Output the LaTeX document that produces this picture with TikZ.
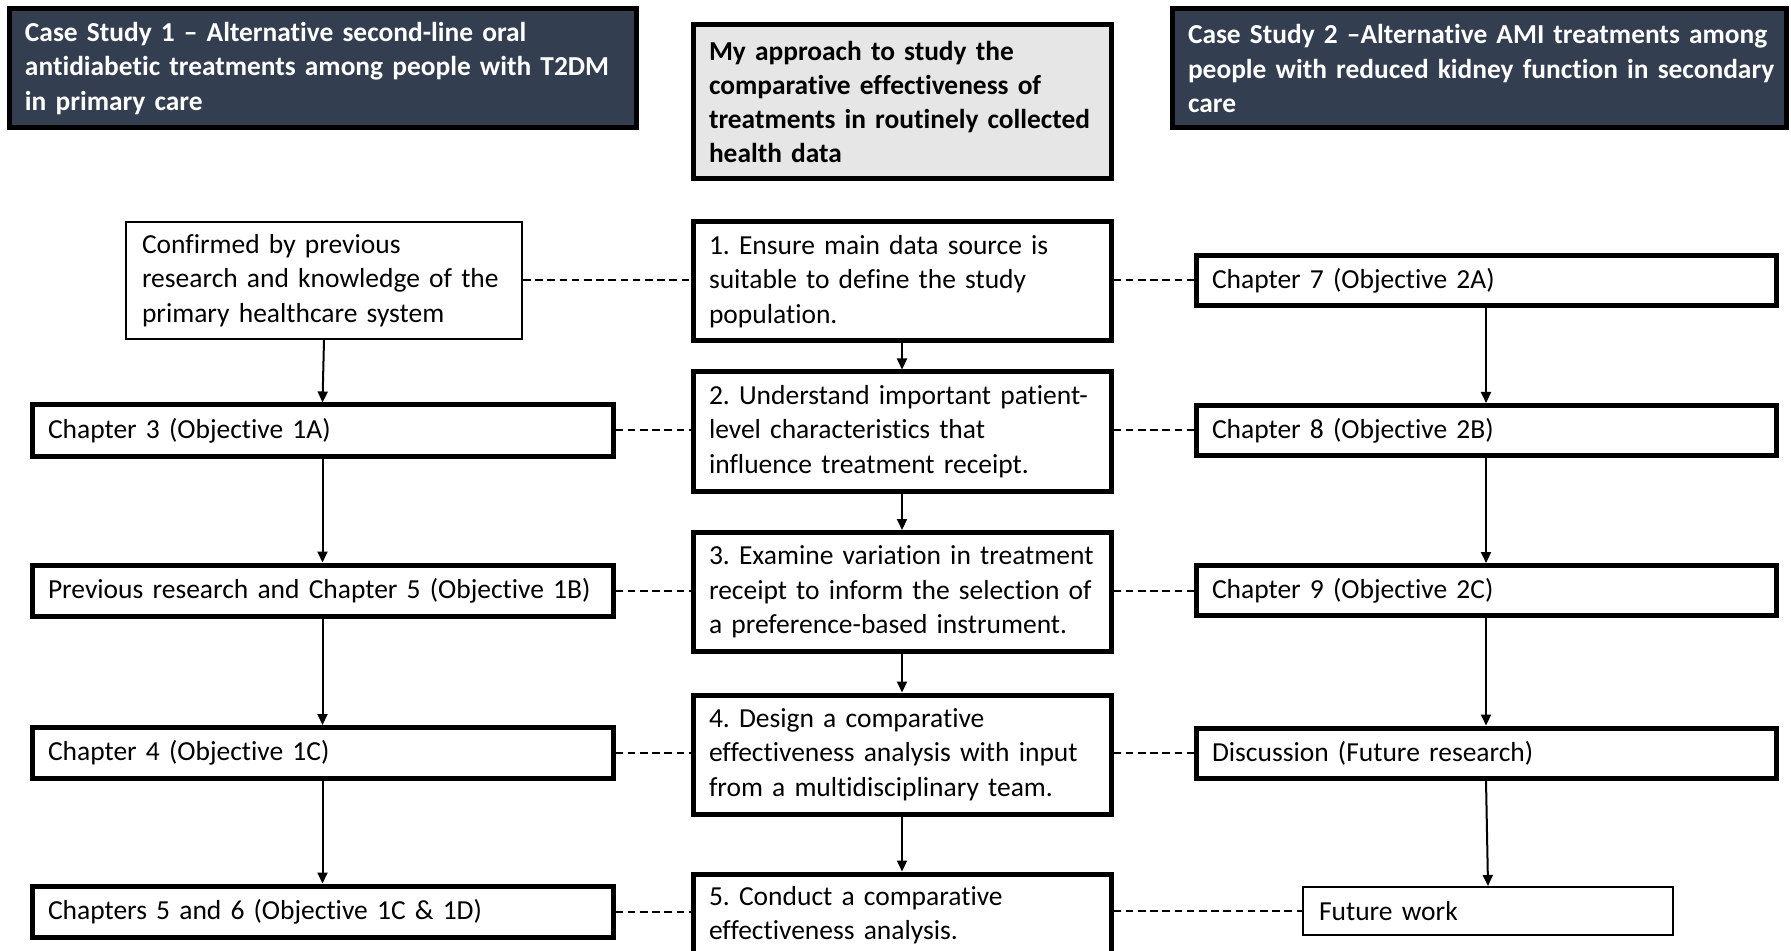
\documentclass[tikz,border=0pt]{standalone}
\usepackage{fontspec}
\setmainfont{Carlito}[Ligatures=NoCommon]
\usetikzlibrary{arrows.meta}
\definecolor{hdrfill}{HTML}{333F50}
\definecolor{midfill}{HTML}{E7E6E6}
\newcommand{\oneline}[1]{\mbox{#1}}
\begin{document}
\frenchspacing
\begin{tikzpicture}[x=0.5pt,y=-0.5pt,
  box/.style={draw=black, line width=2.5pt, fill=white, inner xsep=8pt, inner ysep=0pt,
    align=left, anchor=center, font=\fontsize{13.75}{17.15}\selectfont},
  thinbox/.style={box, line width=1pt},
  hdr/.style={box, fill=hdrfill, text=white, font=\bfseries\fontsize{13.7}{17.15}\selectfont},
  midhdr/.style={box, fill=midfill, font=\bfseries\fontsize{13.7}{17.15}\selectfont},
  cbox/.style={box, text width=193pt, minimum height=59.5pt},
  lbox/.style={box, text width=274.5pt, minimum height=25.5pt},
  rbox/.style={box, text width=274pt, minimum height=25pt},
  arr/.style={line width=1pt, -{Triangle[length=5.5pt,width=5pt]}},
  dashlink/.style={line width=1pt, dash pattern=on 3.8pt off 2.3pt}
]
\useasboundingbox (0,0) rectangle (1791,951);

% headers
\node[hdr, text width=297.5pt, minimum height=59.5pt] (h1) at (322.5,68.5)
  {\oneline{Case Study 1 -- Alternative second-line oral}\\\oneline{antidiabetic treatments among people with T2DM}\\\oneline{in primary care}};
\node[midhdr, text width=193pt, minimum height=77pt] (h2) at (902,102)
  {\oneline{My approach to study the}\\\oneline{comparative effectiveness of}\\\oneline{treatments in routinely collected}\\\oneline{health data}};
\node[hdr, text width=291pt, minimum height=59.5pt] (h3) at (1479,68.5)
  {\oneline{Case Study 2 --Alternative AMI treatments among}\\\oneline{people with reduced kidney function in secondary}\\\oneline{care}};

% left column
\node[thinbox, text width=182pt, minimum height=58.5pt] (l0) at (324,280.5)
  {\oneline{Confirmed by previous}\\\oneline{research and knowledge of the}\\\oneline{primary healthcare system}};
\node[lbox] (l1) at (322.5,430.5) {\oneline{Chapter 3 (Objective 1A)}};
\node[lbox] (l2) at (322.5,590.5) {\oneline{Previous research and Chapter 5 (Objective 1B)}};
\node[lbox] (l3) at (322.5,753) {\oneline{Chapter 4 (Objective 1C)}};
\node[lbox] (l4) at (322.5,911.5) {\oneline{Chapters 5 and 6 (Objective 1C \& 1D)}};

% centre column
\node[cbox] (c1) at (902,281.5) {\oneline{1. Ensure main data source is}\\\oneline{suitable to define the study}\\\oneline{population.}};
\node[cbox] (c2) at (902,431.5) {\oneline{2. Understand important patient-}\\\oneline{level characteristics that}\\\oneline{influence treatment receipt.}};
\node[cbox] (c3) at (902,592) {\oneline{3. Examine variation in treatment}\\\oneline{receipt to inform the selection of}\\\oneline{a preference-based instrument.}};
\node[cbox] (c4) at (902,754.5) {\oneline{4. Design a comparative}\\\oneline{effectiveness analysis with input}\\\oneline{from a multidisciplinary team.}};
\node[box, text width=193pt, minimum height=41pt] (c5) at (902,915) {\oneline{5. Conduct a comparative}\\\oneline{effectiveness analysis.}};

% right column
\node[rbox] (r1) at (1486,280.5) {\oneline{Chapter 7 (Objective 2A)}};
\node[rbox] (r2) at (1486,430.5) {\oneline{Chapter 8 (Objective 2B)}};
\node[rbox] (r3) at (1486,590.5) {\oneline{Chapter 9 (Objective 2C)}};
\node[rbox] (r4) at (1486,753) {\oneline{Discussion (Future research)}};
\node[thinbox, text width=169pt, minimum height=24pt] (r5) at (1488,911) {\oneline{Future work}};

% arrows
\foreach \a/\b in {l0/l1,l1/l2,l2/l3,l3/l4,c1/c2,c2/c3,c3/c4,c4/c5,r1/r2,r2/r3,r3/r4,r4/r5}
  \draw[arr] (\a.south) -- (\b.north);

% dashed links
\draw[dashlink] (l0.east) -- (l0.east -| c1.west);
\draw[dashlink] (r1.west -| c1.east) -- (r1.west);
\draw[dashlink] (l1.east) -- (l1.east -| c2.west);
\draw[dashlink] (r2.west -| c2.east) -- (r2.west);
\draw[dashlink] (l2.east) -- (l2.east -| c3.west);
\draw[dashlink] (r3.west -| c3.east) -- (r3.west);
\draw[dashlink] (l3.east) -- (l3.east -| c4.west);
\draw[dashlink] (r4.west -| c4.east) -- (r4.west);
\draw[dashlink] (l4.east) -- (l4.east -| c5.west);
\draw[dashlink] (r5.west -| c5.east) -- (r5.west);
\end{tikzpicture}
\end{document}
